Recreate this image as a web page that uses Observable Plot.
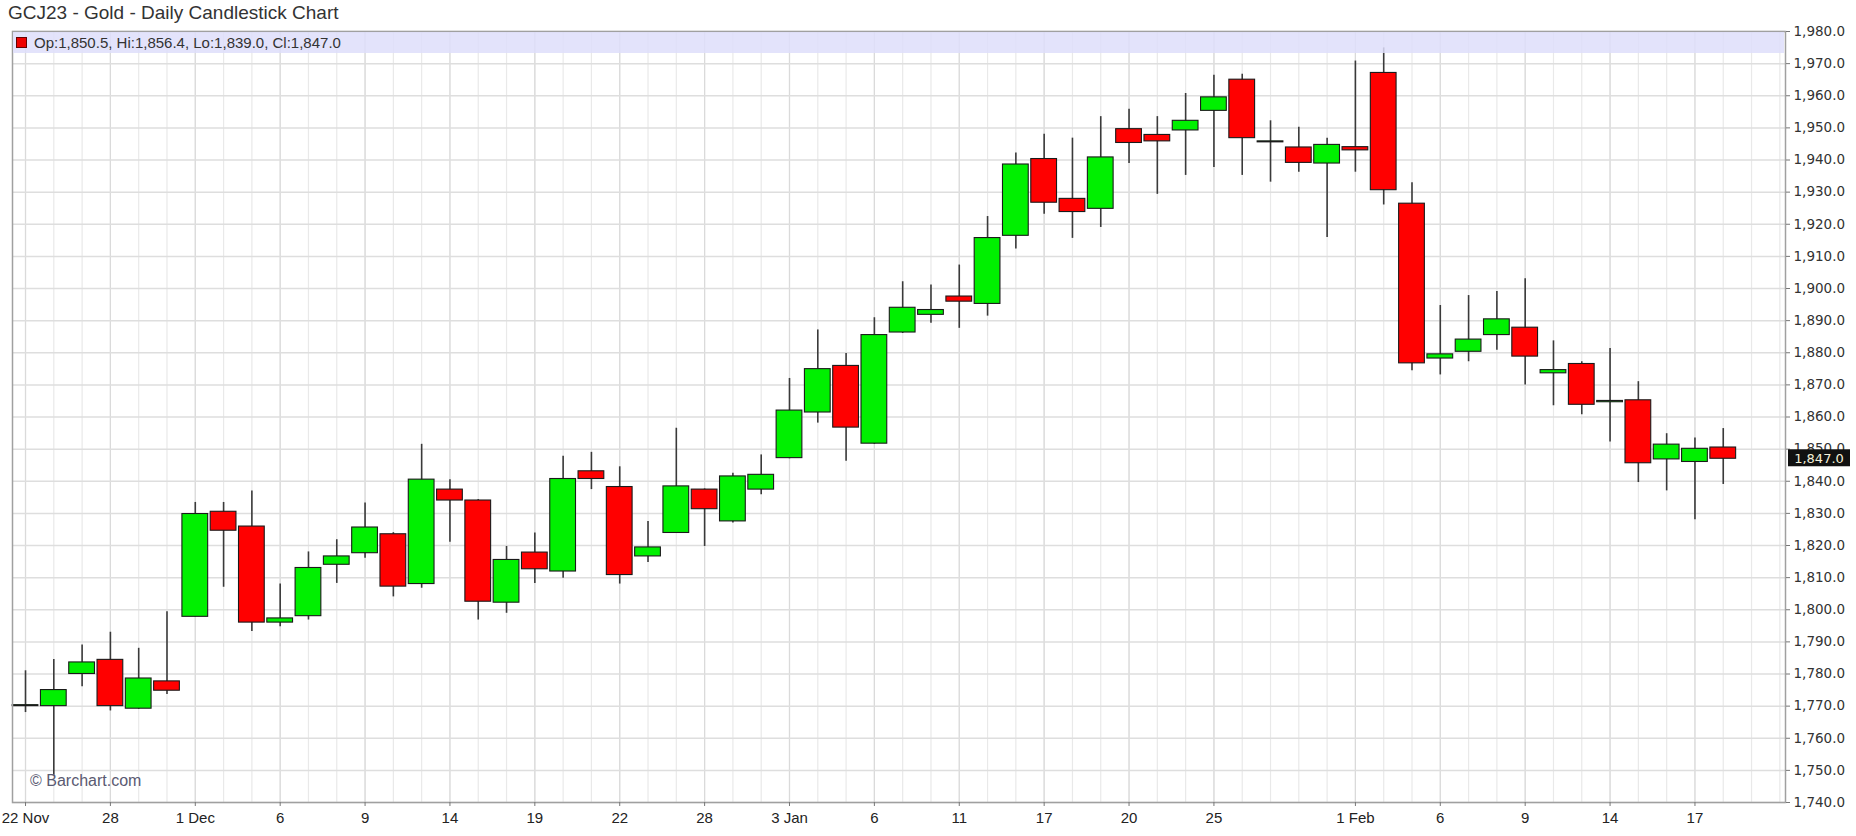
<!DOCTYPE html>
<html>
<head>
<meta charset="utf-8">
<script src="https://cdn.jsdelivr.net/npm/d3@7"></script>
<script src="https://cdn.jsdelivr.net/npm/@observablehq/plot@0.6"></script>
<style>
  body { margin: 0; background: #fff; }
  #wrap { position: relative; width: 1856px; height: 836px; overflow: hidden; font-family: "Liberation Sans", Arial, sans-serif; }
  #title { height: 26px; line-height: 26px; font-size: 19px; color: #333; padding-left: 8px; white-space: nowrap; position: relative; z-index: 2; }
  #band { position: absolute; left: 13px; top: 32px; width: 1771px; height: 21px; background: rgba(222,222,250,0.85); font-size: 15px; color: #333; line-height: 21px; white-space: nowrap; }
  #band .sq { display: inline-block; width: 9px; height: 9px; background: #e00; border: 1px solid #600; margin: 0 7px 0 3px; vertical-align: -0px; }
  #wm { position: absolute; left: 30px; top: 772px; font-size: 16px; color: #5a5a72; white-space: nowrap; }
  #chart svg { overflow: visible; }
</style>
</head>
<body>
<div id="wrap">
  <div id="title">GCJ23 - Gold - Daily Candlestick Chart</div>
  <div id="chart"></div>
  <div id="band"><span class="sq"></span><span id="legtext"></span></div>
  <div id="wm">© Barchart.com</div>
</div>
<script>
// Trading days (Nov 22, 2022 – Feb 21, 2023)
const dates = [
  "2022-11-22","2022-11-23","2022-11-25","2022-11-28","2022-11-29","2022-11-30",
  "2022-12-01","2022-12-02","2022-12-05","2022-12-06","2022-12-07","2022-12-08","2022-12-09",
  "2022-12-12","2022-12-13","2022-12-14","2022-12-15","2022-12-16","2022-12-19","2022-12-20",
  "2022-12-21","2022-12-22","2022-12-23","2022-12-27","2022-12-28","2022-12-29","2022-12-30",
  "2023-01-03","2023-01-04","2023-01-05","2023-01-06","2023-01-09","2023-01-10","2023-01-11",
  "2023-01-12","2023-01-13","2023-01-17","2023-01-18","2023-01-19","2023-01-20","2023-01-23",
  "2023-01-24","2023-01-25","2023-01-26","2023-01-27","2023-01-30","2023-01-31",
  "2023-02-01","2023-02-02","2023-02-03","2023-02-06","2023-02-07","2023-02-08","2023-02-09",
  "2023-02-10","2023-02-13","2023-02-14","2023-02-15","2023-02-16","2023-02-17","2023-02-21"
];
const openP = [
  1770.0,1770.0,1780.0,1784.4,1769.2,1777.7,
  1797.8,1830.5,1825.9,1796.0,1798.0,1814.0,1817.6,
  1823.5,1808.0,1837.4,1834.0,1802.2,1817.8,1811.9,
  1843.1,1838.2,1816.6,1823.9,1837.4,1827.5,1837.4,
  1847.2,1861.4,1875.9,1851.7,1886.3,1891.8,1897.5,
  1895.2,1916.4,1940.3,1927.9,1924.8,1949.6,1947.8,
  1949.2,1955.3,1965.0,1945.5,1943.9,1938.9,
  1944.0,1967.1,1926.4,1878.2,1880.3,1885.5,1887.8,
  1873.6,1876.5,1864.6,1865.2,1846.8,1846.0,1850.5
];
const highP = [
  1781.0,1784.5,1789.0,1793.0,1788.0,1799.4,
  1833.4,1833.4,1837.0,1808.0,1818.0,1821.8,1833.2,
  1824.0,1851.5,1840.5,1834.3,1819.7,1823.9,1847.8,
  1849.0,1844.5,1827.5,1856.5,1837.6,1842.5,1848.2,
  1872.0,1887.1,1879.8,1890.9,1902.1,1901.1,1907.3,
  1922.4,1942.2,1948.0,1946.8,1953.5,1955.8,1953.5,
  1960.7,1966.4,1966.7,1952.2,1950.2,1946.8,
  1970.8,1974.9,1932.9,1894.7,1897.8,1899.1,1903.0,
  1883.7,1877.2,1881.3,1871.0,1854.8,1853.5,1856.4
];
const lowP = [
  1768.0,1748.5,1776.0,1768.5,1769.0,1773.6,
  1797.8,1807.0,1793.2,1794.7,1796.8,1808.2,1816.0,
  1804.0,1806.7,1821.0,1796.8,1798.9,1808.2,1809.8,
  1837.4,1808.0,1814.7,1823.9,1819.7,1827.0,1835.8,
  1847.0,1858.1,1846.2,1851.5,1886.0,1889.2,1887.6,
  1891.4,1912.3,1923.1,1915.6,1919.0,1938.9,1929.3,
  1935.2,1937.7,1935.2,1933.1,1936.2,1915.9,
  1936.2,1926.0,1874.4,1873.1,1877.2,1880.8,1870.0,
  1863.5,1860.7,1852.2,1839.6,1837.0,1828.0,1839.0
];
const closeP = [
  1770.3,1775.0,1783.6,1770.0,1778.6,1774.8,
  1829.8,1824.6,1796.0,1797.3,1813.0,1816.6,1825.6,
  1807.2,1840.5,1834.0,1802.5,1815.5,1812.6,1840.7,
  1840.7,1810.8,1819.4,1838.4,1831.3,1841.5,1842.0,
  1862.0,1874.9,1856.7,1885.5,1894.0,1893.3,1895.9,
  1915.7,1938.6,1926.7,1923.8,1940.8,1945.3,1945.8,
  1952.2,1959.5,1946.8,1945.8,1939.1,1944.7,
  1943.0,1930.6,1876.7,1879.5,1884.1,1890.4,1878.8,
  1874.6,1863.8,1865.0,1845.6,1851.4,1850.1,1847.0
];
const tickDates = [
  "2022-11-22","2022-11-28","2022-12-01","2022-12-06","2022-12-09","2022-12-14","2022-12-19",
  "2022-12-22","2022-12-28","2023-01-03","2023-01-06","2023-01-11","2023-01-17","2023-01-20",
  "2023-01-25","2023-02-01","2023-02-06","2023-02-09","2023-02-14","2023-02-17"
];
const tickLabels = ["22 Nov","28","1 Dec","6","9","14","19","22","28","3 Jan","6","11","17","20","25","1 Feb","6","9","14","17"];
const yTicks = [1740,1750,1760,1770,1780,1790,1800,1810,1820,1830,1840,1850,1860,1870,1880,1890,1900,1910,1920,1930,1940,1950,1960,1970,1980];
const extraSlots = 2; // empty trading-day slots at right edge

const data = dates.map((d, i) => ({i, date: d, open: openP[i], high: highP[i], low: lowP[i], close: closeP[i]}));
const tickIdx = tickDates.map(d => dates.indexOf(d));
const gridIdx = d3.range(dates.length + extraSlots);
const fmt = d3.format(",.1f");
const last = data[data.length - 1];

document.getElementById("legtext").textContent =
  `Op:${fmt(last.open)}, Hi:${fmt(last.high)}, Lo:${fmt(last.low)}, Cl:${fmt(last.close)}`;

const half = 0.455;
const plot = Plot.plot({
  width: 1856,
  height: 810,
  marginTop: 5,
  marginBottom: 34,
  marginLeft: 12,
  marginRight: 71,
  style: {fontFamily: "'Liberation Sans', Arial, sans-serif", color: "#222", background: "transparent", overflow: "visible"},
  x: {type: "linear", domain: [-0.46, dates.length - 1 + extraSlots + 0.2]},
  y: {domain: [1740, 1980]},
  marks: [
    Plot.ruleX(gridIdx, {stroke: "#e9e9e9", strokeWidth: 1.2}),
    Plot.ruleX(tickIdx, {stroke: "#dadada", strokeWidth: 1.2}),
    Plot.ruleY(yTicks, {stroke: "#dedede", strokeWidth: 1.5}),
    Plot.ruleX(data, {x: "i", y1: "low", y2: "high", stroke: "#3a3a3a", strokeWidth: 1.6}),
    Plot.rect(data, {filter: d => d.close >= d.open, x1: d => d.i - half, x2: d => d.i + half, y1: "open", y2: "close", fill: "#00f000", stroke: "#1a1a1a", strokeWidth: 1.1}),
    Plot.rect(data, {filter: d => d.close < d.open, x1: d => d.i - half, x2: d => d.i + half, y1: "open", y2: "close", fill: "#ff0000", stroke: "#1a1a1a", strokeWidth: 1.1}),
    Plot.frame({stroke: "#a0a0a0", strokeWidth: 1.5}),
    Plot.axisY({anchor: "right", ticks: yTicks, tickFormat: fmt, tickSize: 4, tickPadding: 4, stroke: "#777", fontSize: 13.5, fontFamily: "'DejaVu Sans', sans-serif", fill: "#333", label: null}),
    Plot.axisX({anchor: "bottom", ticks: tickIdx, tickFormat: (d) => tickLabels[tickIdx.indexOf(d)], tickSize: 4, tickPadding: 6, stroke: "#777", fontSize: 15, fontFamily: "'Liberation Sans Narrow', 'Liberation Sans', Arial, sans-serif", fill: "#222", label: null})
  ]
});
document.getElementById("chart").appendChild(plot);

// last-price badge on the right axis
const ys = plot.scale("y");
const yy = ys.apply(last.close);
const g = d3.select(plot).append("g");
g.append("rect").attr("x", 1788).attr("y", yy - 9).attr("width", 62).attr("height", 17).attr("fill", "#111");
g.append("text").attr("x", 1819).attr("y", yy + 4.5).attr("text-anchor", "middle")
  .attr("fill", "#f4f0d8").attr("font-size", 13).attr("font-family", "'DejaVu Sans', sans-serif").text(fmt(last.close));
</script>
</body>
</html>
